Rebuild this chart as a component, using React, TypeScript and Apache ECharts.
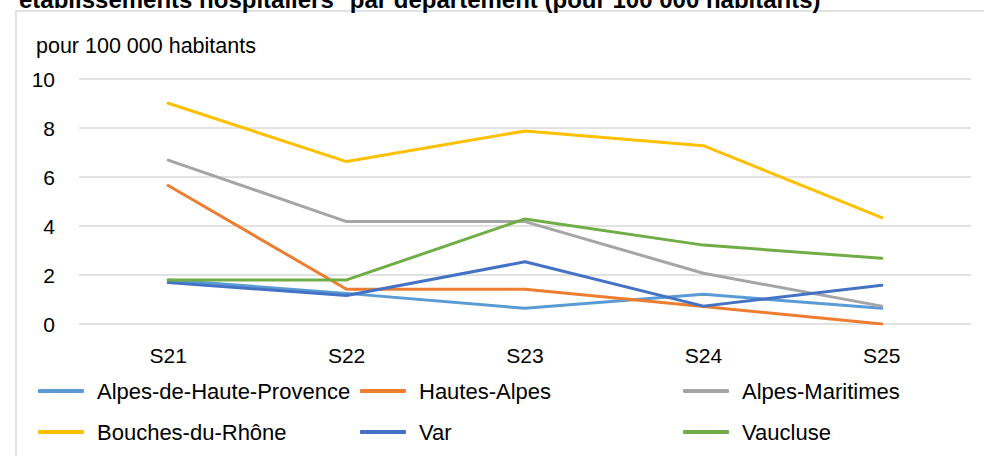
import React, { useEffect, useRef } from "react";
import * as echarts from "echarts";

const categories = ["S21", "S22", "S23", "S24", "S25"];
const seriesNames = [
  "Alpes-de-Haute-Provence",
  "Hautes-Alpes",
  "Alpes-Maritimes",
  "Bouches-du-Rhône",
  "Var",
  "Vaucluse",
];
const alpesHauteProvence = [1.8, 1.25, 0.64, 1.21, 0.64];
const hautesAlpes = [5.65, 1.42, 1.42, 0.71, 0];
const alpesMaritimes = [6.69, 4.18, 4.18, 2.07, 0.73];
const bouchesDuRhone = [9.01, 6.63, 7.88, 7.28, 4.34];
const varDept = [1.69, 1.16, 2.54, 0.73, 1.58];
const vaucluse = [1.8, 1.8, 4.29, 3.22, 2.68];
const seriesValues = [alpesHauteProvence, hautesAlpes, alpesMaritimes, bouchesDuRhone, varDept, vaucluse];
const colors = ["#5B9BD5", "#ED7D31", "#A5A5A5", "#FFC000", "#4472C4", "#70AD47"];
const yTicks = { min: 0, max: 10, interval: 2 };
const titleText = "établissements hospitaliers* par département (pour 100 000 habitants)";
const unitText = "pour 100 000 habitants";

const FONT = "'Liberation Sans', Arial, sans-serif";

export default function App() {
  const ref = useRef<HTMLDivElement>(null);
  useEffect(() => {
    if (!ref.current) return;
    const chart = echarts.init(ref.current, undefined, { renderer: "svg" });
    const legendPos = [
      { left: 38, top: 391 },
      { left: 360, top: 391 },
      { left: 683, top: 391 },
      { left: 38, top: 432 },
      { left: 360, top: 432 },
      { left: 683, top: 432 },
    ];
    chart.setOption({
      animation: false,
      backgroundColor: "#ffffff",
      grid: { left: 79, right: 13, top: 79, bottom: 132, containLabel: false },
      xAxis: {
        type: "category",
        data: categories,
        boundaryGap: true,
        axisLine: { show: false },
        axisTick: { show: false },
        axisLabel: { color: "#000", fontFamily: FONT, fontSize: 21, margin: 21 },
      },
      yAxis: {
        type: "value",
        min: yTicks.min,
        max: yTicks.max,
        interval: yTicks.interval,
        axisLine: { show: false },
        axisTick: { show: false },
        axisLabel: { color: "#000", fontFamily: FONT, fontSize: 21, margin: 24 },
        splitLine: { lineStyle: { color: "#d9d9d9", width: 1.5 } },
      },
      legend: seriesNames.map((n, i) => ({
        data: [n],
        left: legendPos[i].left,
        top: legendPos[i].top - 11,
        padding: 0,
        itemWidth: 46,
        itemHeight: 4,
        icon: "roundRect",
        textStyle: { color: "#000", fontFamily: FONT, fontSize: 22, padding: [0, 0, 0, 8] },
      })),
      graphic: [
        {
          type: "rect",
          shape: { x: 16, y: 11, width: 1100, height: 600 },
          style: { fill: "none", stroke: "#d9d9d9", lineWidth: 1.5 },
          silent: true,
        },
        {
          type: "text",
          x: 19,
          y: -1,
          style: {
            text: titleText,
            fill: "#000",
            font: "bold 24px " + FONT,
            verticalAlign: "middle",
            align: "left",
          },
        },
        {
          type: "text",
          x: 36,
          y: 46,
          style: {
            text: unitText,
            fill: "#000",
            font: "21.5px " + FONT,
            verticalAlign: "middle",
            align: "left",
          },
        },
      ],
      series: seriesNames.map((n, i) => ({
        name: n,
        type: "line",
        data: seriesValues[i],
        symbol: "none",
        color: colors[i],
        lineStyle: { color: colors[i], width: 3, cap: "round", join: "round" },
        itemStyle: { color: colors[i] },
      })),
    });
    return () => chart.dispose();
  }, []);
  return (
    <div
      ref={ref}
      style={{ position: "fixed", left: 0, top: 0, width: 984, height: 456 }}
    />
  );
}
